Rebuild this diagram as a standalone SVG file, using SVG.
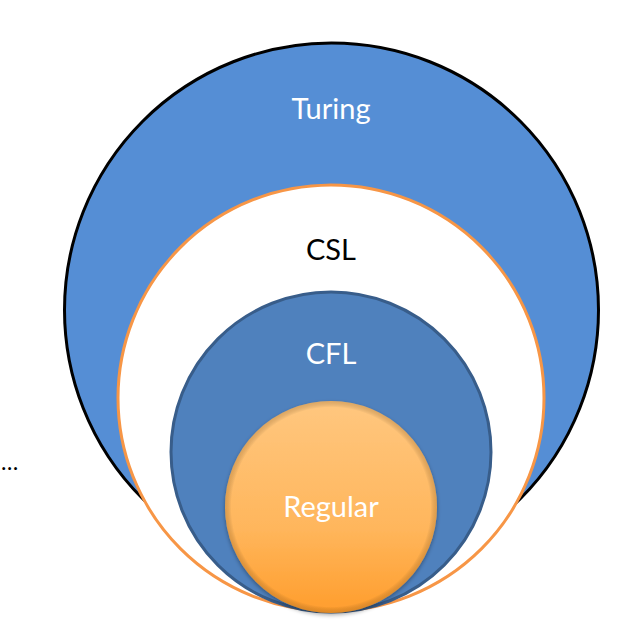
<svg xmlns="http://www.w3.org/2000/svg" width="634" height="631" viewBox="0 0 634 631">
<style>
.lbl{font-family:Lato,"Open Sans","Liberation Sans",sans-serif;font-size:29px;text-anchor:middle}
.w{fill:#ffffff}
.k{fill:#000000}
</style>
<defs>
<linearGradient id="rg" x1="0" y1="0" x2="0" y2="1">
<stop offset="0" stop-color="#ffc77f"/>
<stop offset="0.6" stop-color="#ffb65c"/>
<stop offset="1" stop-color="#ff9d2c"/>
</linearGradient>
<radialGradient id="bevel" cx="0.5" cy="0.5" r="0.5">
<stop offset="0.94" stop-color="#000" stop-opacity="0"/>
<stop offset="1" stop-color="#7a4a10" stop-opacity="0.25"/>
</radialGradient>
<filter id="sh" x="-20%" y="-20%" width="140%" height="140%">
<feGaussianBlur in="SourceAlpha" stdDeviation="2"/>
<feOffset dy="2"/>
<feComponentTransfer><feFuncA type="linear" slope="0.35"/></feComponentTransfer>
<feMerge><feMergeNode/><feMergeNode in="SourceGraphic"/></feMerge>
</filter>
</defs>
<g id="turing">
<circle cx="331.5" cy="310" r="267" fill="#558ed5" stroke="#000" stroke-width="3"/>
<text class="lbl w" x="331" y="119">Turing</text>
</g>
<g id="csl">
<circle cx="331" cy="398" r="213" fill="#ffffff" stroke="#f79646" stroke-width="3"/>
<text class="lbl k" x="331" y="260">CSL</text>
</g>
<g id="cfl">
<circle cx="331" cy="452" r="160" fill="#4f81bd" stroke="#385d8a" stroke-width="3"/>
<text class="lbl w" x="331" y="364">CFL</text>
</g>
<g id="regular">
<circle cx="331" cy="507" r="106" fill="url(#rg)" filter="url(#sh)"/>
<circle cx="331" cy="507" r="106" fill="url(#bevel)"/>
<text class="lbl w" x="331" y="517">Regular</text>
</g>
<g id="connectors"/>
<text x="1" y="470" font-family="Lato,'Open Sans','Liberation Sans',sans-serif" font-size="23" fill="#000">…</text>
</svg>
